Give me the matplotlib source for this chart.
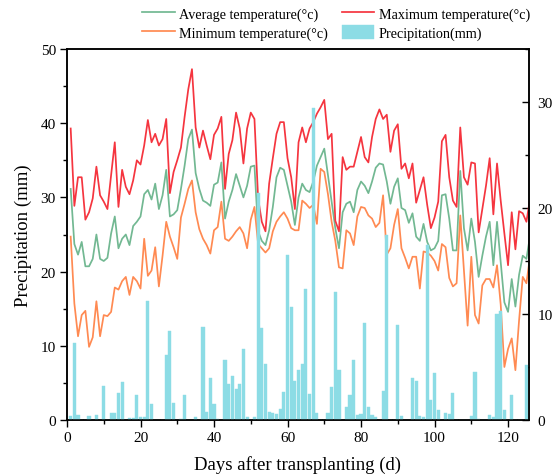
import matplotlib
matplotlib.use("Agg")
import matplotlib.pyplot as plt
import numpy as np
from matplotlib.ticker import MultipleLocator

plt.rcParams['font.family'] = ['Liberation Serif', 'DejaVu Serif']

days = list(range(1, 127))

t_max = [27.5, 20.2, 22.9, 22.9, 18.9, 19.6, 20.9, 23.9, 21.2, 20.6,
         19.9, 23.1, 26.2, 20.1, 23.6, 22.0, 21.3, 22.6, 24.5, 24.1,
         25.9, 28.3, 26.2, 27.0, 25.9, 26.5, 28.4, 21.4, 23.4, 24.5,
         25.7, 28.6, 31.2, 33.1, 27.6, 25.7, 27.3, 25.9, 24.6, 26.9,
         27.5, 28.6, 21.8, 25.1, 26.4, 29.0, 27.5, 24.2, 27.5, 29.0,
         28.4, 20.9, 18.7, 17.8, 22.3, 24.7, 27.0, 28.1, 28.1, 24.7,
         22.9, 19.9, 26.2, 27.6, 26.2, 27.5, 28.1, 28.9, 29.5, 30.2,
         26.5, 27.0, 18.8, 17.8, 24.8, 23.6, 23.9, 23.9, 25.3, 26.7,
         24.8, 24.3, 26.7, 28.4, 29.3, 28.4, 28.8, 25.3, 27.3, 27.9,
         23.7, 24.2, 22.8, 24.2, 20.5, 21.7, 22.9, 20.3, 18.1, 19.1,
         20.6, 26.3, 26.9, 22.9, 20.7, 20.1, 27.6, 22.9, 22.2, 24.3,
         24.2, 17.7, 19.9, 22.1, 24.7, 19.4, 24.2, 20.7, 17.6, 14.6,
         19.6, 16.1, 19.7, 19.5, 18.7, 20.9]

t_avg = [21.8, 16.6, 15.6, 16.8, 14.5, 14.5, 15.2, 17.5, 15.2, 15.0,
         15.3, 17.6, 19.2, 16.2, 17.1, 17.5, 16.5, 18.3, 18.7, 19.2,
         21.3, 21.7, 20.8, 22.3, 19.9, 21.2, 23.6, 19.2, 19.4, 19.8,
         21.8, 24.0, 26.5, 27.4, 23.3, 21.8, 20.7, 20.5, 20.2, 22.2,
         22.4, 24.3, 19.0, 20.6, 21.7, 23.2, 22.1, 21.0, 22.1, 23.9,
         24.0, 17.8, 16.9, 16.5, 17.9, 20.1, 22.9, 23.8, 23.6, 22.1,
         20.6, 18.4, 21.0, 22.3, 21.7, 21.5, 22.5, 24.0, 24.8, 25.6,
         23.1, 20.6, 18.1, 16.2, 19.6, 20.4, 20.6, 19.6, 21.7, 22.5,
         22.1, 21.4, 22.5, 23.8, 24.2, 24.1, 22.5, 20.4, 22.0, 22.8,
         20.0, 19.8, 18.6, 19.5, 17.3, 16.9, 18.5, 16.8, 16.0, 16.2,
         16.9, 21.2, 21.3, 19.0, 16.0, 16.0, 23.5, 18.1, 16.0, 19.0,
         16.8, 13.5, 15.5, 17.3, 18.7, 14.6, 18.7, 14.9, 11.1, 10.2,
         13.3, 10.7, 13.7, 15.5, 15.2, 17.4]

t_min = [17.3, 11.0, 7.9, 9.9, 10.3, 6.9, 7.8, 11.2, 7.9, 9.9,
         9.8, 10.2, 12.5, 12.3, 13.1, 13.5, 11.8, 13.5, 13.1, 12.4,
         17.1, 13.6, 14.1, 16.3, 12.6, 15.5, 18.7, 17.3, 16.3, 15.2,
         19.1, 20.4, 21.8, 22.6, 19.6, 18.0, 17.1, 16.5, 15.7, 17.9,
         18.2, 20.6, 17.1, 16.9, 17.3, 17.8, 18.2, 17.6, 16.2, 18.9,
         20.1, 16.6, 16.2, 15.8, 16.2, 17.8, 18.7, 19.2, 19.6, 19.0,
         18.1, 17.9, 17.9, 20.7, 20.4, 20.0, 20.3, 18.5, 23.7, 23.4,
         21.3, 18.7, 16.9, 14.4, 14.3, 17.9, 17.6, 16.5, 19.2, 20.1,
         20.0, 19.3, 19.0, 18.2, 18.6, 21.2, 15.6, 16.2, 18.4, 19.9,
         16.2, 15.3, 14.3, 15.4, 15.4, 12.4, 15.9, 15.8, 15.5, 15.0,
         14.1, 16.6, 16.3, 13.4, 12.6, 12.9, 19.3, 14.1, 8.9, 15.4,
         9.9, 9.1, 12.7, 13.3, 13.3, 12.5, 14.6, 10.9, 5.0, 6.7,
         7.7, 4.7, 9.4, 13.5, 12.9, 15.5]

precip = [0.6, 10.4, 0.7, 0, 0, 0.5, 0, 0.7, 0, 4.6,
          0, 1.0, 0.9, 3.6, 5.1, 0, 0.3, 0.3, 3.4, 0.4,
          0.4, 16.0, 2.2, 0, 0, 0, 8.7, 12.0, 2.3, 0,
          0.2, 3.4, 0, 0, 0.35, 0, 12.5, 1.1, 5.7, 2.2,
          0.2, 0, 8.1, 4.9, 5.9, 4.2, 4.9, 9.6, 0.4, 0,
          0.4, 30.6, 12.4, 7.6, 1.1, 1.0, 0.8, 1.5, 3.8, 22.2,
          15.2, 5.3, 6.7, 7.6, 17.7, 3.5, 42.0, 0.9, 0, 0,
          1.0, 4.5, 17.2, 6.7, 0, 1.8, 3.4, 8.1, 0.7, 0.8,
          13.1, 1.8, 0.7, 0.4, 0, 3.9, 25.0, 0, 0, 12.8,
          0.5, 0, 0, 5.6, 5.3, 0.6, 0.45, 23.6, 2.7, 6.4,
          1.4, 0, 0.9, 0.8, 3.6, 0, 0, 0, 0, 0.5,
          6.5, 0.1, 0, 0, 0.7, 0.4, 14.3, 14.7, 1.3, 0,
          3.4, 0, 0, 0, 7.4]
precip_days = days[:len(precip)]

c_avg = '#72B892'
c_max = '#F5353F'
c_min = '#FF8A52'
c_pre = '#8CDCE5'

W, H = 552, 477
fig = plt.figure(figsize=(W / 100, H / 100), dpi=100)
rect = [67 / W, 1 - 421 / H, (529 - 67) / W, (421 - 50) / H]

ax_t = fig.add_axes(rect)
ax_t.yaxis.tick_right()
l_avg, = ax_t.plot(days, t_avg, color=c_avg, lw=1.25)
l_min, = ax_t.plot(days, t_min, color=c_min, lw=1.25)
l_max, = ax_t.plot(days, t_max, color=c_max, lw=1.25)
ax_t.set_ylim(0, 35)
ax_t.yaxis.set_major_locator(MultipleLocator(10))
ax_t.yaxis.set_minor_locator(MultipleLocator(5))

ax_p = ax_t.twinx()
ax_p.yaxis.tick_left()
ax_p.yaxis.set_label_position('left')
bars = ax_p.bar(precip_days, precip, width=0.85, color=c_pre, edgecolor=c_pre, lw=0.3)
ax_p.set_ylim(0, 50)
ax_p.yaxis.set_major_locator(MultipleLocator(10))
ax_p.yaxis.set_minor_locator(MultipleLocator(5))
ax_p.set_ylabel('Precipitation (mm)', fontsize=13.5, labelpad=6)

ax_t.set_xlim(0, 125.7)
ax_t.xaxis.set_major_locator(MultipleLocator(20))
ax_t.xaxis.set_minor_locator(MultipleLocator(10))
ax_t.set_xlabel('Days after transplanting (d)', fontsize=13.5, labelpad=8)

for a in (ax_t, ax_p):
    for s in a.spines.values():
        s.set_linewidth(1.1)
        s.set_color('black')

ax_t.tick_params(axis='x', which='major', direction='out', length=5, width=1.0, labelsize=11, pad=3)
ax_t.tick_params(axis='x', which='minor', direction='out', length=3, width=1.0)
ax_t.tick_params(axis='y', which='major', direction='in', length=5, width=1.0, labelsize=11, pad=6,
                 right=True, left=False, labelright=True, labelleft=False)
ax_t.tick_params(axis='y', which='minor', direction='in', length=3, width=1.0, right=True, left=False)
ax_p.tick_params(axis='y', which='major', direction='out', length=5, width=1.0, labelsize=11, pad=3,
                 left=True, right=False, labelleft=True, labelright=False)
ax_p.tick_params(axis='y', which='minor', direction='out', length=3, width=1.0, left=True, right=False)

handles = [l_avg, l_min, l_max, bars]
labels = ['Average temperature(°c)', 'Minimum temperature(°c)',
          'Maximum temperature(°c)', 'Precipitation(mm)']
fig.legend(handles, labels, loc='upper left', bbox_to_anchor=(142 / W, 1 - 7 / H),
           ncol=2, frameon=False, fontsize=10.2, handlelength=2.3, handleheight=1.1,
           handletextpad=0.3, columnspacing=1.0, labelspacing=0.32,
           borderpad=0, borderaxespad=0)

fig.savefig('out.png', dpi=100)
